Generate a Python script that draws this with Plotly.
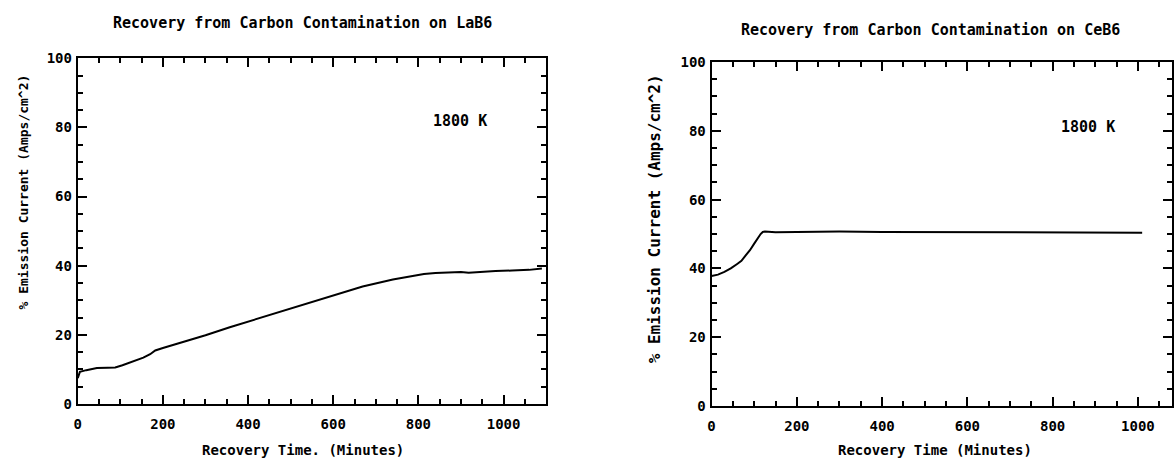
import plotly.graph_objects as go

# Left chart: LaB6
lab6_time = [0, 5, 20, 45, 70, 88, 105, 123, 140, 154, 170, 182, 200, 240, 300, 357, 420, 513, 600, 669, 740, 790, 813, 840, 864, 900, 918, 950, 981, 1020, 1060, 1090]
lab6_current = [7.5, 9.3, 9.8, 10.4, 10.5, 10.6, 11.2, 12.0, 12.7, 13.4, 14.4, 15.5, 16.2, 17.6, 19.9, 22.2, 24.6, 28.2, 31.5, 34.0, 36.0, 37.2, 37.6, 37.9, 38.1, 38.2, 38.0, 38.3, 38.5, 38.6, 38.8, 39.2]

# Right chart: CeB6
ceb6_time = [0, 15, 30, 45, 60, 70, 80, 90, 100, 108, 115, 120, 125, 150, 200, 300, 400, 600, 800, 950, 1010]
ceb6_current = [37.8, 38.2, 39.0, 40.0, 41.3, 42.2, 43.8, 45.3, 47.2, 48.8, 50.0, 50.6, 50.7, 50.5, 50.6, 50.7, 50.6, 50.6, 50.6, 50.5, 50.4]

x_ticks = [0, 200, 400, 600, 800, 1000]
y_ticks = [0, 20, 40, 60, 80, 100]

titles = ["Recovery from Carbon Contamination on LaB6",
          "Recovery from Carbon Contamination on CeB6"]
x_titles = ["Recovery Time. (Minutes)", "Recovery Time (Minutes)"]
y_title = "% Emission Current (Amps/cm^2)"
temp_label = "1800 K"

FONT = "DejaVu Sans Mono"

fig = go.Figure()
fig.add_trace(go.Scatter(x=lab6_time, y=lab6_current, mode="lines",
                         line=dict(color="black", width=2), xaxis="x", yaxis="y",
                         showlegend=False))
fig.add_trace(go.Scatter(x=ceb6_time, y=ceb6_current, mode="lines",
                         line=dict(color="black", width=2), xaxis="x2", yaxis="y2",
                         showlegend=False))

W, H = 1175, 470
left_px = (74, 544, 52, 410)
right_px = (710, 1172, 56, 412)

def dom_x(p):
    return [p[0] / W, p[1] / W]

def dom_y(p):
    return [1 - p[3] / H, 1 - p[2] / H]

tickfont = dict(family=FONT, size=14, color="black", weight="bold")

common_x = dict(showline=True, linecolor="black", linewidth=2, mirror="ticks",
                ticks="inside", ticklen=9, tickwidth=2, tickcolor="black",
                tickvals=x_ticks, showgrid=False, zeroline=False,
                ticklabelstandoff=6,
                minor=dict(ticks="inside", ticklen=5, tickwidth=2, dtick=50, tick0=0,
                           tickcolor="black", showgrid=False),
                tickfont=tickfont)
common_y = dict(showline=True, linecolor="black", linewidth=2, mirror="ticks",
                ticks="inside", ticklen=9, tickwidth=2, tickcolor="black",
                tickvals=y_ticks, showgrid=False, zeroline=False, range=[0, 100],
                ticklabelstandoff=1,
                minor=dict(ticks="inside", ticklen=5, tickwidth=2, dtick=5, tick0=0,
                           tickcolor="black", showgrid=False),
                tickfont=tickfont)

fig.update_layout(
    width=W, height=H,
    margin=dict(l=0, r=0, t=0, b=0),
    paper_bgcolor="white", plot_bgcolor="white",
    xaxis=dict(domain=dom_x(left_px), range=[0, 1100], anchor="y", **common_x),
    yaxis=dict(domain=dom_y(left_px), anchor="x", **common_y),
    xaxis2=dict(domain=dom_x(right_px), range=[0, 1080], anchor="y2", **common_x),
    yaxis2=dict(domain=dom_y(right_px), anchor="x2", **common_y),
)


def txt(text, xp, yp, size, angle=0):
    return dict(text=text, x=xp / W, y=1 - yp / H, xref="paper", yref="paper",
                xanchor="center", yanchor="middle", showarrow=False, textangle=angle,
                font=dict(family=FONT, size=size, color="black", weight="bold"))


ann = [
    txt(titles[0], 300, 16, 15),
    txt(titles[1], 930, 23, 15),
    txt(x_titles[0], 300, 458, 14),
    txt(x_titles[1], 934, 458, 14),
    txt(y_title, 20, 190, 13, -90),
    txt(y_title, 653, 218, 16, -90),
    dict(text=temp_label, x=898, y=81.8, xref="x", yref="y", showarrow=False,
         xanchor="center", yanchor="middle",
         font=dict(family=FONT, size=15, color="black", weight="bold")),
    dict(text=temp_label, x=884, y=81.2, xref="x2", yref="y2", showarrow=False,
         xanchor="center", yanchor="middle",
         font=dict(family=FONT, size=15, color="black", weight="bold")),
]
fig.update_layout(annotations=ann)

fig.write_html("out.html")
